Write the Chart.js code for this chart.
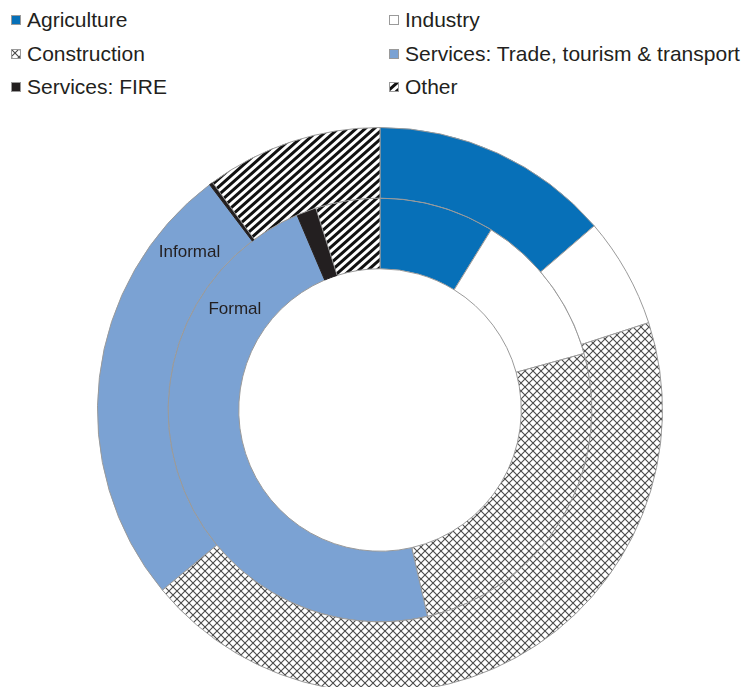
<!DOCTYPE html>
<html>
<head>
<meta charset="utf-8">
<script src="https://cdn.jsdelivr.net/npm/chart.js@4"></script>
<style>
  body { margin: 0; background: #fff; width: 745px; height: 687px; position: relative; overflow: hidden; font-family: "Liberation Sans", Arial, sans-serif; color: #231f20; }
  #legend { position: absolute; left: 0; top: 0; }
  .item { position: absolute; font-size: 21px; line-height: 24px; white-space: nowrap; }
  .item canvas { position: absolute; left: 0; top: 7px; }
  .item span { position: absolute; left: 16px; top: 0; }
  #wrap { position: absolute; left: 97px; top: 127px; width: 566px; height: 566px; }
</style>
</head>
<body>
<div id="legend"></div>
<div id="wrap"><canvas id="rosca" width="566" height="566"></canvas></div>
<script>
    const setores = ['Agriculture', 'Industry', 'Construction', 'Services: Trade, tourism & transport', 'Services: FIRE', 'Other'];
    const informal = [13.7, 6.3, 44.0, 25.7, 0.2, 10.1];
    const formal = [8.8, 11.9, 25.7, 47.2, 1.5, 4.9];
    const aneis = ['Informal', 'Formal'];

    // hachuras
    function cruzado() {
        const s = 8;
        const c = document.createElement('canvas');
        c.width = s; c.height = s;
        const g = c.getContext('2d');
        g.fillStyle = '#fff';
        g.fillRect(0, 0, s, s);
        g.strokeStyle = '#4a4a4a';
        g.lineWidth = 1.1;
        g.beginPath();
        g.moveTo(-1, -1); g.lineTo(s + 1, s + 1);
        g.moveTo(s + 1, -1); g.lineTo(-1, s + 1);
        g.stroke();
        return g.createPattern(c, 'repeat');
    }

    function listrado() {
        const w = 9, h = 8;
        const c = document.createElement('canvas');
        c.width = w; c.height = h;
        const g = c.getContext('2d');
        g.fillStyle = '#fff';
        g.fillRect(0, 0, w, h);
        g.strokeStyle = '#111';
        g.lineWidth = 3;
        g.beginPath();
        [-w, 0, w].forEach(dx => {
            g.moveTo(dx - w, 2 * h); g.lineTo(dx + 2 * w, -h);
        });
        g.stroke();
        return g.createPattern(c, 'repeat');
    }

    const cores = ['#0770b8', '#ffffff', cruzado(), '#7ba2d3', '#231f20', listrado()];
    const bordas = ['#9a9a9a', '#9a9a9a', '#9a9a9a', '#9a9a9a', '#231f20', '#9a9a9a'];

    // legenda em duas colunas
    const legenda = document.getElementById('legend');
    const colX = [11, 389];
    const linhaY = [8, 42, 75];
    setores.forEach((nome, i) => {
        const div = document.createElement('div');
        div.className = 'item';
        div.style.left = colX[i % 2] + 'px';
        div.style.top = linhaY[Math.floor(i / 2)] + 'px';
        const q = document.createElement('canvas');
        q.width = 10; q.height = 10;
        const g = q.getContext('2d');
        g.fillStyle = cores[i];
        g.fillRect(0, 0, 10, 10);
        g.strokeStyle = '#9a9a9a';
        g.lineWidth = 1;
        g.strokeRect(0.5, 0.5, 9, 9);
        const t = document.createElement('span');
        t.textContent = nome;
        div.appendChild(q);
        div.appendChild(t);
        legenda.appendChild(div);
    });

    const angulosRotulo = [-140.4, -145.3];

    const rotulos = {
        id: 'rotulos',
        afterDatasetsDraw(chart) {
            const ctx = chart.ctx;
            ctx.save();
            ctx.font = '17px "Liberation Sans", Arial, sans-serif';
            ctx.fillStyle = '#231f20';
            ctx.textAlign = 'center';
            ctx.textBaseline = 'middle';
            chart.data.datasets.forEach((ds, i) => {
                const arc = chart.getDatasetMeta(i).data[0];
                const p = arc.getProps(['x', 'y', 'innerRadius', 'outerRadius'], true);
                const r = (p.innerRadius + p.outerRadius) / 2;
                const a = angulosRotulo[i] * Math.PI / 180;
                ctx.fillText(ds.label, p.x + r * Math.cos(a), p.y + r * Math.sin(a));
            });
            ctx.restore();
        }
    };

    new Chart(document.getElementById('rosca'), {
        type: 'doughnut',
        data: {
            labels: setores,
            datasets: [{
                label: aneis[0],
                data: informal,
                backgroundColor: cores,
                borderColor: bordas,
                borderWidth: 1,
                hoverOffset: 0
            },
            {
                label: aneis[1],
                data: formal,
                backgroundColor: cores,
                borderColor: bordas,
                borderWidth: 1,
                hoverOffset: 0
            }]
        },
        options: {
            responsive: false,
            animation: false,
            cutout: '50%',
            layout: { padding: 0 },
            plugins: {
                legend: { display: false },
                tooltip: { enabled: false }
            }
        },
        plugins: [rotulos]
    });
</script>
</body>
</html>
